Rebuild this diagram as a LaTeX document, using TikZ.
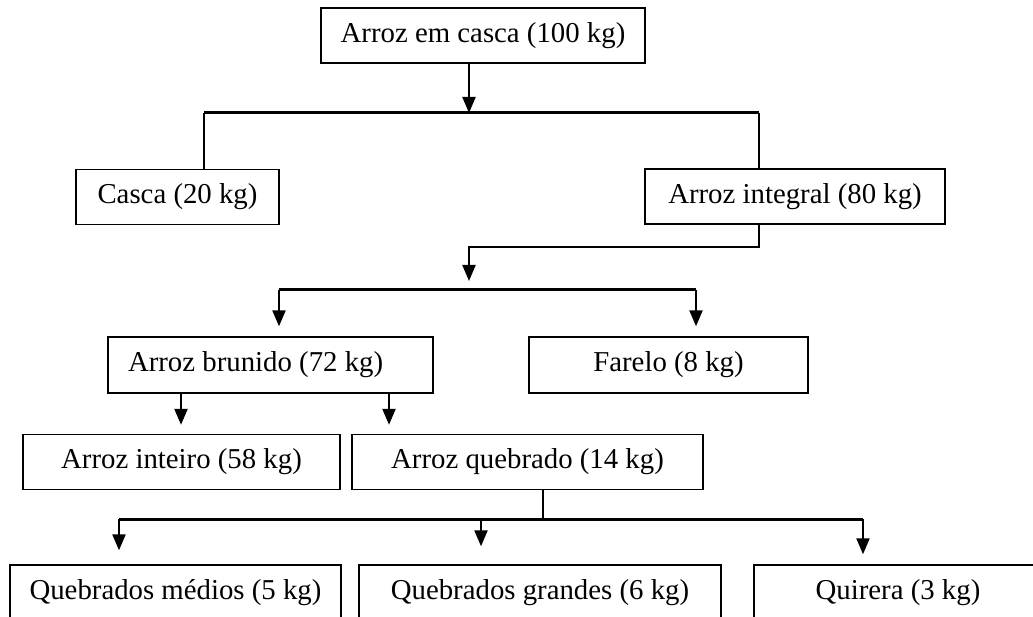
\documentclass[tikz,border=0pt]{standalone}
\usepackage{fontspec}
\setmainfont{Liberation Serif}
\usetikzlibrary{arrows.meta}

\begin{document}
\begin{tikzpicture}[x=1pt, y=-1pt, >={Triangle[width=13pt,length=16pt]},
      every node/.append style={font=\fontsize{28.8}{34}\selectfont}]
    \tikzstyle{box} = [draw, line width=1.4pt, inner sep=0pt, minimum height=55pt]
    \tikzstyle{wire} = [line width=2.2pt]
    \tikzstyle{bar} = [line width=3pt]
    \clip (0,0) rectangle (1033,617);
    % boxes
    \node (casca100) [box, minimum width=324pt] at (483,35.5) {Arroz em casca (100 kg)};
    \node (casca20) [box, minimum width=203pt] at (177.5,197) {Casca (20 kg)};
    \node (integral) [box, minimum width=300pt] at (795,196.5) {Arroz integral (80 kg)};
    \node (brunido) [box, minimum height=56pt, inner xsep=20pt, text width=285pt, align=flush left]
      at (270.5,365) {Arroz brunido (72 kg)};
    \node (farelo) [box, minimum width=279pt, minimum height=56pt] at (668.5,365) {Farelo (8 kg)};
    \node (inteiro) [box, minimum width=317pt] at (181.5,462) {Arroz inteiro (58 kg)};
    \node (quebrado) [box, minimum width=351pt] at (527.5,462) {Arroz quebrado (14 kg)};
    \node (medios) [box, minimum width=331pt, minimum height=56pt] at (175.5,593) {Quebrados médios (5 kg)};
    \node (grandes) [box, minimum width=362pt, minimum height=56pt] at (540,593) {Quebrados grandes (6 kg)};
    \node (quirera) [box, minimum width=288pt, minimum height=56pt] at (898,593) {Quirera (3 kg)};
    % branch points
    \coordinate (top) at (469,113);
    \coordinate (c1L) at (204,113);
    \coordinate (c1R) at (759,113);
    \coordinate (knee) at (469,247);
    \coordinate (c2M) at (469,290);
    \coordinate (c2L) at (279,290);
    \coordinate (c2R) at (696,290);
    \coordinate (d1) at (181,393);
    \coordinate (d2) at (389,393);
    \coordinate (c3M) at (543,519);
    \coordinate (c3L) at (119,519);
    \coordinate (c3C) at (481,519);
    \coordinate (c3R) at (863,519);
    % connectors
    \draw [wire,->] (casca100.south -| top) -- (top);
    \draw [bar] (c1L) -- (c1R);
    \draw [wire] (c1L) -- (c1L |- casca20.north);
    \draw [wire] (c1R) -- (c1R |- integral.north);
    \draw [wire,->,shorten >=9pt] (c1R |- integral.south) |- (knee) -- (c2M);
    \draw [bar] (c2L) -- (c2R);
    \draw [wire,->,shorten >=10pt] (c2L) -- (c2L |- brunido.north);
    \draw [wire,->,shorten >=10pt] (c2R) -- (c2R |- farelo.north);
    \draw [wire,->,shorten >=9pt] (d1) -- (d1 |- inteiro.north);
    \draw [wire,->,shorten >=9pt] (d2) -- (d2 |- quebrado.north);
    \draw [wire] (c3M |- quebrado.south) -- (c3M);
    \draw [bar] (c3L) -- (c3R);
    \draw [wire,->,shorten >=14pt] (c3L) -- (c3L |- medios.north);
    \draw [wire,->,shorten >=18pt] (c3C) -- (c3C |- grandes.north);
    \draw [wire,->,shorten >=10pt] (c3R) -- (c3R |- quirera.north);
\end{tikzpicture}
\end{document}
